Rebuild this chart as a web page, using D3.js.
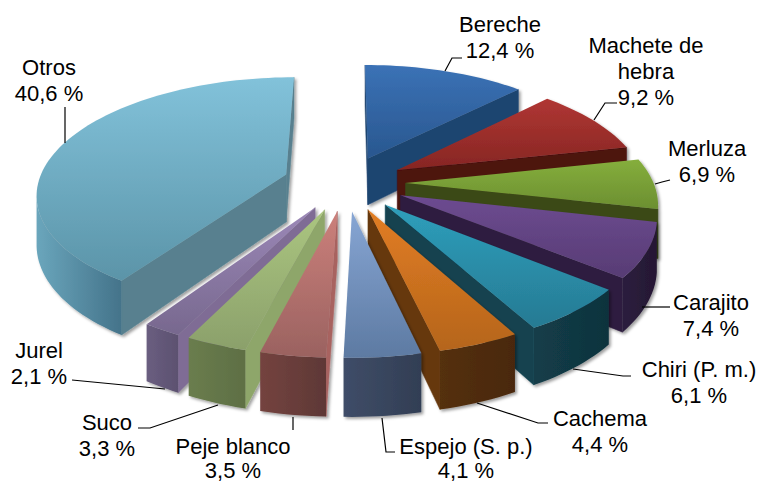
<!DOCTYPE html>
<html><head><meta charset="utf-8">
<script src="https://cdn.jsdelivr.net/npm/d3@7"></script>
<style>html,body{margin:0;padding:0;background:#fff}svg{display:block}</style>
</head><body><svg id="c" width="761" height="483"></svg>
<script>
const categories=["Bereche","Machete de hebra","Merluza","Carajito","Chiri (P. m.)","Cachema","Espejo (S. p.)","Peje blanco","Suco","Jurel","Otros"];
const values=[12.4,9.2,6.9,7.4,6.1,4.4,4.1,3.5,3.3,2.1,40.6];
const topLight=["#3b72b6","#b03633","#85ae3c","#6d4b91","#2e9fbc","#e27d24","#87a6d4","#cc807b","#abc680","#9c88b8","#82c2da"];
const topDark=["#29578f","#862623","#6c8f31","#573c74","#267a93","#b5651b","#5d7aa2","#9a6260","#8ba06b","#77688e","#5b94a8"];
const sideColor=["#1f4570","#4d1210","#3b4a18","#2e1e40","#124350","#66380d","#465672","#a86360","#8ea66a","#7f6c95","#58808f"];
const wallLight=["#1f4570","#4d1210","#3b4a18","#2c1d3e","#133d49","#54300e","#3f4d68","#74433f","#6a7d4e","#6a5e80","#6aa6bc"];
const wallDark=["#1f4570","#4d1210","#3b4a18","#251833","#0f333d","#4a280a","#323e54","#5e3836","#5e6f44","#5c5170","#44738a"];
const explode=[.24,.24,.24,.24,.24,.24,.24,.24,.24,.24,.255];
const labelLines=[["Bereche","12,4 %"],["Machete de","hebra","9,2 %"],["Merluza","6,9 %"],["Carajito","7,4 %"],["Chiri (P. m.)","6,1 %"],["Cachema","4,4 %"],["Espejo (S. p.)","4,1 %"],["Peje blanco","3,5 %"],["Suco","3,3 %"],["Jurel","2,1 %"],["Otros","40,6 %"]];
const labelAnchor=[[500,25],[646,46],[707,149],[711,303],[699,370],[600,419],[466,447],[233,447],[107,423],[39,351],[49,68]];
const leaders=[[[445,71],[452,58],[462,58]],[[594,120],[605,103],[617,103]],[[655,184],[662,182],[670,180]],[[642,307],[670,307]],[[573,369],[623,376],[631,376]],[[477,403],[538,423],[548,423]],[[382,418],[386,452],[395,452]],[[293,417],[293,430]],[[218,405],[150,428],[138,428]],[[165,389],[72,380]],[[65,107],[65,143]]];

const svg=d3.select("#c");
const P=.152;
const sx=d3.scaleLinear().domain([-1,1]).range([346-248,346+248]);
const sy=d3.scaleLinear().domain([-1,1]).range([183-114.5,183+114.5]);
const depth=48;
function proj(u,v,z){const w=1-P*v;return [sx(u/w),sy(v/w)+z*depth/w];}
const pie=d3.pie().sort(null).value(d=>d)(values);
const line=d3.line();
const defs=svg.append("defs");
const f=defs.append("filter").attr("id","sh").attr("x","-10%").attr("y","-10%").attr("width","125%").attr("height","125%");
f.append("feGaussianBlur").attr("in","SourceGraphic").attr("stdDeviation",.45).attr("result","s");
f.append("feDropShadow").attr("in","s").attr("dx",2).attr("dy",2).attr("stdDeviation",1.6).attr("flood-color","#000").attr("flood-opacity",.38);

function grad(id,c1,c2,horiz){const g=defs.append("linearGradient").attr("id",id).attr("x1",0).attr("y1",0).attr("x2",horiz?1:0).attr("y2",horiz?0:1);
 g.append("stop").attr("offset",0).attr("stop-color",c1);g.append("stop").attr("offset",1).attr("stop-color",c2);}
function area(p){return d3.polygonArea(p);}

const slices=pie.map((a,i)=>({a,i,mid:(a.startAngle+a.endAngle)/2}));
slices.sort((s,t)=>(-Math.cos(s.mid))-(-Math.cos(t.mid)));
const layer=svg.append("g");
slices.forEach(s=>{
 const i=s.i,e=explode[i],ou=e*Math.sin(s.mid),ov=-e*Math.cos(s.mid);
 const g=layer.append("g").attr("filter","url(#sh)");
 grad("t"+i,topLight[i],topDark[i],false);
 grad("w"+i,wallLight[i],wallDark[i],true);
 const n=Math.max(6,Math.round((s.a.endAngle-s.a.startAngle)/.03));
 const rim=d3.range(n+1).map(k=>{const th=s.a.startAngle+(s.a.endAngle-s.a.startAngle)*k/n;return [ou+Math.sin(th),ov-Math.cos(th)];});
 const apex=[ou,ov];
 const topPts=[proj(apex[0],apex[1],0),...rim.map(r=>proj(r[0],r[1],0))];
 const orient=Math.sign(area(topPts));
 function wall(a,b,fill){
  const q=[proj(a[0],a[1],0),proj(b[0],b[1],0),proj(b[0],b[1],1),proj(a[0],a[1],1)];
  if(Math.sign(area(q))===orient) return;
  g.append("path").attr("d",line(q)+"Z").attr("fill",fill).attr("stroke",fill).attr("stroke-width",.5);
 }
 wall(apex,rim[0],sideColor[i]);
 wall(rim[n],apex,sideColor[i]);
 const vis=[];
 for(let k=0;k<n;k++){
  const a=rim[k],b=rim[k+1];
  const q=[proj(a[0],a[1],0),proj(b[0],b[1],0),proj(b[0],b[1],1),proj(a[0],a[1],1)];
  if(Math.sign(area(q))!==orient) vis.push(k);
 }
 if(vis.length){
  const first=vis[0],last=vis[vis.length-1];
  const upper=d3.range(first,last+2).map(k=>proj(rim[k][0],rim[k][1],0));
  const lower=d3.range(last+1,first-1,-1).map(k=>proj(rim[k][0],rim[k][1],1));
  g.append("path").attr("d",line(upper.concat(lower))+"Z").attr("fill",`url(#w${i})`);
 }
 g.append("path").attr("d",line(topPts)+"Z").attr("fill",`url(#t${i})`);
});

const lg=svg.append("g").attr("fill","none").attr("stroke","#000").attr("stroke-width",1.2);
leaders.forEach(l=>lg.append("path").attr("d",line(l)));

const tg=svg.append("g").attr("font-family","'Liberation Sans',Arial,sans-serif").attr("font-size",22).attr("text-anchor","middle").attr("fill","#000");
categories.forEach((c,i)=>{
 const [x,y]=labelAnchor[i];
 const t=tg.append("text").attr("x",x).attr("y",y+7);
 labelLines[i].forEach((s,k)=>t.append("tspan").attr("x",x).attr("dy",k?(y===447?24:26):0).text(s));
});
</script></body></html>
